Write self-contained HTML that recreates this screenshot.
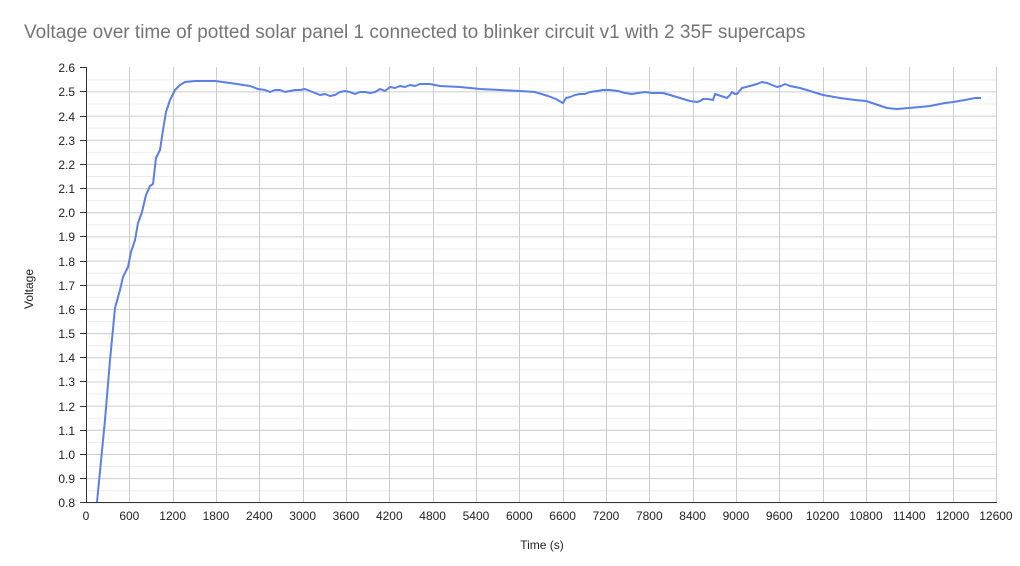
<!DOCTYPE html>
<html><head><meta charset="utf-8"><style>body{margin:0;background:#fff;font-family:"Liberation Sans",Arial,sans-serif}</style></head><body>
<svg width="1020" height="561" xmlns="http://www.w3.org/2000/svg" font-family="Liberation Sans, Arial, sans-serif">
<rect width="1020" height="561" fill="#fff"/>
<text x="24" y="38" font-size="19" fill="#757575">Voltage over time of potted solar panel 1 connected to blinker circuit v1 with 2 35F supercaps</text>
<g id="g"></g>
<text x="542" y="549" font-size="12" text-anchor="middle" fill="#222">Time (s)</text>
<text transform="translate(33,289) rotate(-90)" font-size="12" text-anchor="middle" fill="#222">Voltage</text>
<script>
var ns="http://www.w3.org/2000/svg",g=document.getElementById('g');
function el(t,a,txt){var e=document.createElementNS(ns,t);for(var k in a)e.setAttribute(k,a[k]);if(txt!==undefined)e.textContent=txt;g.appendChild(e);return e;}
var y0=502.3,dy=24.17,x0=86,dx=43.33;
for(var i=0;i<36;i++){var y=y0-i*dy/2;el('line',{x1:86,x2:997,y1:y+.5,y2:y+.5,stroke:i%2?'#ededed':'#cccccc','stroke-width':1});}
for(var i=1;i<=21;i++){var x=Math.round(x0+i*dx)+.5;el('line',{x1:x,x2:x,y1:67,y2:502,stroke:'#cccccc'});}
for(var i=0;i<=18;i++){var y=Math.round(y0-i*dy)+.5;el('line',{x1:80,x2:86,y1:y,y2:y,stroke:'#333'});el('text',{x:75,y:y+4.5,'font-size':12,'text-anchor':'end',fill:'#222'},(0.8+i*0.1).toFixed(1));}
for(var i=0;i<=21;i++){el('text',{x:x0+i*dx,y:520,'font-size':12,'text-anchor':'middle',fill:'#222'},String(i*600));}
el('line',{x1:86.5,x2:86.5,y1:67,y2:503,stroke:'#333'});
el('line',{x1:86,x2:997,y1:502.5,y2:502.5,stroke:'#333'});
var p=[[97,502],[105,420],[110,360],[115,308],[120,290],[123,277],[128,267],[131,252],[135,240],[138,223],[142,212],[146,195],[150,186],[153,184],[156,158],[160,150],[163,130],[166,112],[170,100],[175,90],[180,85],[185,82],[195,81],[215,81],[230,83],[250,86],[258,89],[265,90],[270,92],[275,90],[280,90],[285,92],[290,91],[295,90],[300,90],[305,89],[310,91],[315,93],[320,95],[325,94],[330,96],[335,95],[340,92],[345,91],[350,92],[355,94],[360,92],[365,92],[370,93],[375,92],[380,89],[385,91],[390,87],[395,88],[400,86],[405,87],[410,85],[415,86],[420,84],[430,84],[440,86],[460,87],[480,89],[500,90],[520,91],[535,92],[548,96],[556,99],[561,102],[563,103],[566,98],[570,97],[575,95],[580,94],[585,94],[590,92],[597,91],[603,90],[610,90],[618,91],[625,93],[632,94],[638,93],[645,92],[652,93],[658,93],[663,93],[670,95],[680,98],[690,101],[697,102],[700,101],[703,99],[708,99],[713,100],[715,94],[721,96],[727,98],[730,95],[732,92],[735,94],[737,94],[742,88],[750,86],[757,84],[762,82],[767,83],[772,85],[777,87],[781,86],[785,84],[790,86],[795,87],[800,88],[810,91],[823,95],[840,98],[855,100],[866,101],[875,104],[887,108],[897,109],[909,108],[920,107],[930,106],[945,103],[953,102],[965,100],[975,98],[981,98]];
var d=p.map(function(q,i){return (i?'L':'M')+q[0]+' '+q[1];}).join(' ');
el('path',{d:d,fill:'none',stroke:'#5b7fe8','stroke-width':2,'stroke-linejoin':'round'});
</script>
</svg>
</body></html>
